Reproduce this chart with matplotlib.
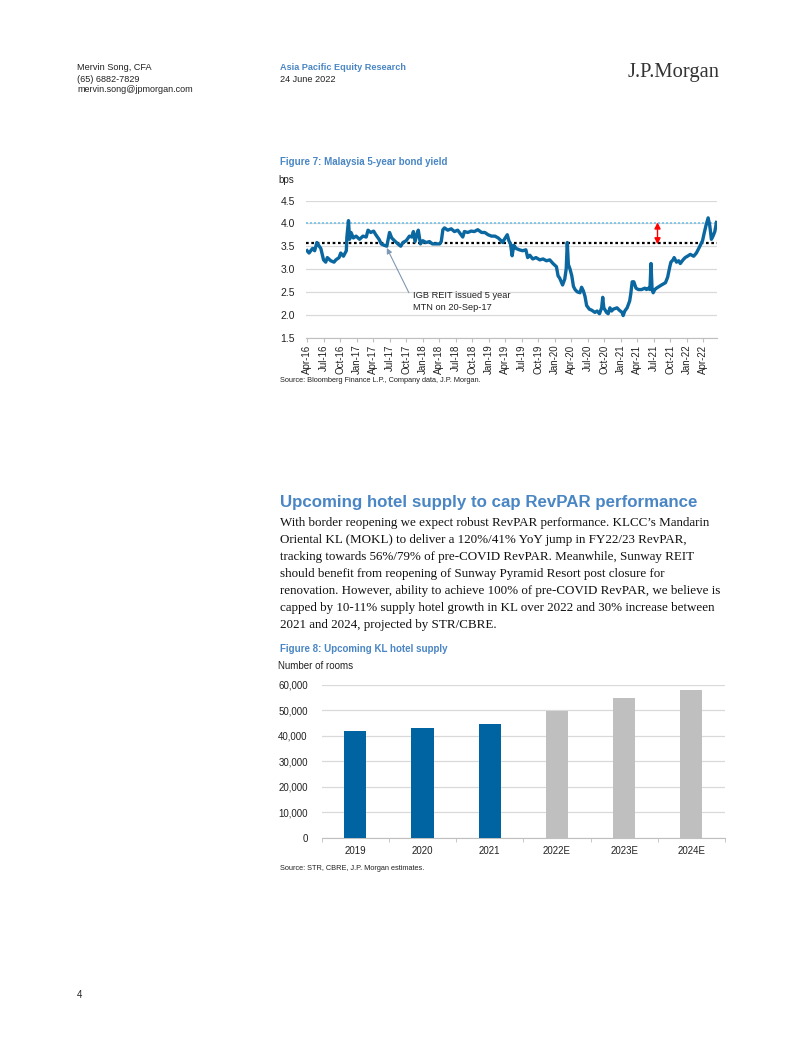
import matplotlib
matplotlib.use("Agg")
import matplotlib.pyplot as plt
import matplotlib.dates as mdates
from matplotlib.ticker import FuncFormatter
import pandas as pd

W, H = 802, 1037

# --- Figure 7: Malaysia 5-year bond yield ---
bond_dates = [
    "2016-04-01", "2016-04-12", "2016-05-01", "2016-05-13", "2016-05-25", "2016-06-07",
    "2016-06-16", "2016-07-01", "2016-07-13", "2016-07-22", "2016-08-10", "2016-08-28",
    "2016-09-07", "2016-09-25", "2016-10-04", "2016-10-19", "2016-11-04", "2016-11-07",
    "2016-11-16", "2016-11-22", "2016-11-30", "2016-12-13", "2016-12-28", "2017-01-16",
    "2017-02-04", "2017-02-22", "2017-03-04", "2017-03-19", "2017-04-04", "2017-04-16",
    "2017-05-04", "2017-05-16", "2017-06-01", "2017-06-16", "2017-07-01", "2017-07-13",
    "2017-07-28", "2017-08-16", "2017-09-01", "2017-09-13", "2017-10-01", "2017-10-19",
    "2017-11-01", "2017-11-10", "2017-11-19", "2017-12-01", "2017-12-07", "2017-12-19",
    "2018-01-01", "2018-01-19", "2018-02-07", "2018-02-23", "2018-03-13", "2018-04-04",
    "2018-04-13", "2018-04-22", "2018-05-01", "2018-05-19", "2018-06-07", "2018-06-25",
    "2018-07-13", "2018-08-01", "2018-08-10", "2018-08-19", "2018-09-07", "2018-09-25",
    "2018-10-13", "2018-11-01", "2018-11-22", "2018-12-10", "2018-12-28", "2019-01-16",
    "2019-02-04", "2019-02-22", "2019-03-10", "2019-03-19", "2019-03-28", "2019-04-13",
    "2019-04-22", "2019-05-01", "2019-05-10", "2019-05-19", "2019-06-01", "2019-06-19",
    "2019-07-07", "2019-07-25", "2019-08-04", "2019-08-16", "2019-09-01", "2019-09-19",
    "2019-10-10", "2019-10-28", "2019-11-16", "2019-12-04", "2019-12-22", "2020-01-10",
    "2020-01-19", "2020-01-28", "2020-02-13", "2020-02-25", "2020-03-04", "2020-03-10",
    "2020-03-16", "2020-03-25", "2020-04-04", "2020-04-13", "2020-04-22", "2020-05-04",
    "2020-05-19", "2020-05-28", "2020-06-07", "2020-06-16", "2020-06-25", "2020-07-10",
    "2020-07-22", "2020-08-10", "2020-08-22", "2020-09-04", "2020-09-16", "2020-09-22",
    "2020-09-28", "2020-10-13", "2020-10-22", "2020-11-01", "2020-11-10", "2020-11-19",
    "2020-12-10", "2020-12-22", "2021-01-07", "2021-01-13", "2021-01-22", "2021-02-04",
    "2021-02-18", "2021-02-24", "2021-03-04", "2021-03-13", "2021-03-25", "2021-04-07",
    "2021-04-25", "2021-05-13", "2021-05-22", "2021-06-01", "2021-06-10", "2021-06-16",
    "2021-06-22", "2021-06-28", "2021-07-07", "2021-07-16", "2021-08-01", "2021-08-13",
    "2021-09-04", "2021-09-16", "2021-09-28", "2021-10-04", "2021-10-16", "2021-10-22",
    "2021-11-04", "2021-11-16", "2021-11-25", "2021-12-10", "2021-12-22", "2022-01-04",
    "2022-01-19", "2022-02-07", "2022-02-22", "2022-03-07", "2022-03-19", "2022-03-28",
    "2022-04-07", "2022-04-16", "2022-04-28", "2022-05-07", "2022-05-16", "2022-05-25",
    "2022-06-04", "2022-06-13",
]
bond_yield = [
    3.40, 3.35, 3.45, 3.40, 3.58, 3.50,
    3.45, 3.20, 3.15, 3.25, 3.18, 3.15,
    3.20, 3.25, 3.35, 3.28, 3.40, 3.70,
    4.06, 3.65, 3.80, 3.68, 3.72, 3.65,
    3.72, 3.70, 3.85, 3.80, 3.83, 3.75,
    3.65, 3.55, 3.52, 3.50, 3.80, 3.68,
    3.62, 3.55, 3.50, 3.58, 3.62, 3.72,
    3.70, 3.82, 3.60, 3.78, 3.85, 3.55,
    3.62, 3.58, 3.60, 3.55, 3.55, 3.55,
    3.60, 3.86, 3.90, 3.85, 3.88, 3.82,
    3.85, 3.75, 3.70, 3.82, 3.80, 3.83,
    3.82, 3.86, 3.80, 3.80, 3.75, 3.72,
    3.72, 3.68, 3.62, 3.58, 3.65, 3.75,
    3.62, 3.55, 3.29, 3.52, 3.45, 3.42,
    3.40, 3.42, 3.25, 3.30, 3.22, 3.25,
    3.20, 3.22, 3.18, 3.20, 3.12, 3.05,
    2.85, 2.80, 2.65, 2.78, 3.00, 3.58,
    3.10, 3.00, 2.85, 2.62, 2.55, 2.50,
    2.48, 2.60, 2.52, 2.40, 2.20, 2.12,
    2.10, 2.05, 2.08, 2.02, 2.15, 2.38,
    2.15, 2.05, 2.02, 2.15, 2.08, 2.12,
    2.15, 2.10, 2.05, 1.98, 2.08, 2.15,
    2.30, 2.45, 2.72, 2.72, 2.58, 2.55,
    2.55, 2.58, 2.55, 2.58, 2.55, 3.12,
    2.55, 2.48, 2.55, 2.58, 2.62, 2.65,
    2.70, 2.82, 3.05, 3.15, 3.20, 3.25,
    3.15, 3.18, 3.12, 3.20, 3.25, 3.28,
    3.32, 3.28, 3.35, 3.45, 3.55, 3.62,
    3.80, 3.95, 4.12, 3.95, 3.65, 3.72,
    3.82, 4.02,
]
issue_level = 3.56
current_level = 4.0
y_ticks = [1.5, 2.0, 2.5, 3.0, 3.5, 4.0, 4.5]

# --- Figure 8: Upcoming KL hotel supply ---
years = ["2019", "2020", "2021", "2022E", "2023E", "2024E"]
rooms = [42000, 43000, 44800, 49700, 54800, 58100]
is_estimate = [False, False, False, True, True, True]

body_lines = [
    "With border reopening we expect robust RevPAR performance. KLCC\u2019s Mandarin",
    "Oriental KL (MOKL) to deliver a 120%/41% YoY jump in FY22/23 RevPAR,",
    "tracking towards 56%/79% of pre-COVID RevPAR. Meanwhile, Sunway REIT",
    "should benefit from reopening of Sunway Pyramid Resort post closure for",
    "renovation. However, ability to achieve 100% of pre-COVID RevPAR, we believe is",
    "capped by 10-11% supply hotel growth in KL over 2022 and 30% increase between",
    "2021 and 2024, projected by STR/CBRE.",
]

SANS = ["Liberation Sans", "DejaVu Sans"]
SERIF = ["Liberation Serif", "DejaVu Serif"]
BLUE_TXT = "#4a86c4"
LINE_BLUE = "#0b67a0"
BAR_BLUE = "#0064a3"
GREY_BAR = "#bfbfbf"
GRID = "#d9d9d9"

plt.rcParams["font.family"] = SANS

fig = plt.figure(figsize=(W / 100, H / 100), dpi=100)


def ax_px(x0, y0, x1, y1):
    return fig.add_axes([x0 / W, 1 - y1 / H, (x1 - x0) / W, (y1 - y0) / H])


def txt(x, y, s, **kw):
    kw.setdefault("va", "center")
    kw.setdefault("ha", "left")
    fig.text(x / W, 1 - y / H, s, **kw)


# --- page header ---
txt(77, 68, "Mervin Song, CFA", fontsize=6.6, color="#222222")
txt(77, 79, "(65) 6882-7829", fontsize=6.6, color="#222222")
txt(77, 90, "mervin.song@jpmorgan.com", fontsize=6.5, color="#222222")
txt(280, 68, "Asia Pacific Equity Research", fontsize=6.6, color=BLUE_TXT, fontweight="bold")
txt(280, 79, "24 June 2022", fontsize=6.6, color="#222222")
txt(720, 72, "J.P.Morgan", fontsize=14.8, family=SERIF, color="#333333", ha="right")

# --- Figure 7 ---
txt(280, 162, "Figure 7: Malaysia 5-year bond yield", fontsize=7.0, color=BLUE_TXT, fontweight="bold")
txt(278, 180, "bps", fontsize=7, color="#222222")

ax1 = ax_px(306, 200.5, 717, 337.5)
dates = pd.to_datetime(bond_dates)
ax1.plot(dates, bond_yield, color=LINE_BLUE, lw=2.4, solid_joinstyle="round", zorder=4)
ax1.axhline(current_level, color="#74c2e8", ls=(0, (1.2, 1.2)), lw=1.2, zorder=3)
ax1.axhline(issue_level, color="black", ls=(0, (1.2, 1.2)), lw=1.6, zorder=3)
ax1.set_ylim(1.5, 4.5)
ax1.set_yticks(y_ticks)
ax1.yaxis.set_major_formatter(FuncFormatter(lambda v, p: f"{v:.1f}"))
ax1.set_xlim(pd.Timestamp("2016-03-26"), pd.Timestamp("2022-06-16"))
ax1.xaxis.set_major_locator(mdates.MonthLocator(bymonth=[1, 4, 7, 10]))
ax1.xaxis.set_major_formatter(mdates.DateFormatter("%b-%y"))
ax1.grid(axis="y", color=GRID, lw=0.9, zorder=0)
for s in ["top", "right", "left"]:
    ax1.spines[s].set_visible(False)
ax1.spines["bottom"].set_color("#bfbfbf")
ax1.tick_params(axis="y", length=0, pad=8, labelsize=7.5, labelcolor="#222222")
ax1.tick_params(axis="x", length=3, color="#bfbfbf", pad=2, labelsize=7,
                labelcolor="#222222", labelrotation=90)

# red double-headed gap arrow
ax1.annotate("", xy=(pd.Timestamp("2021-07-22"), current_level + 0.02),
             xytext=(pd.Timestamp("2021-07-22"), issue_level - 0.02),
             arrowprops=dict(arrowstyle="<|-|>", color="#ff0000", lw=1.0,
                             mutation_scale=9, shrinkA=0, shrinkB=0), zorder=5)

# IGB REIT annotation
ax1.annotate("", xy=(pd.Timestamp("2017-06-16"), 3.46),
             xytext=(pd.Timestamp("2017-10-16"), 2.48),
             arrowprops=dict(arrowstyle="-|>", color="#7f98b3", lw=0.8,
                             mutation_scale=8, shrinkA=0, shrinkB=0), zorder=5)
ax1.text(pd.Timestamp("2017-11-08"), 2.42, "IGB REIT issued 5 year", fontsize=6.7,
         color="#222222", va="center")
ax1.text(pd.Timestamp("2017-11-08"), 2.15, "MTN on 20-Sep-17", fontsize=6.7,
         color="#222222", va="center")

txt(280, 381, "Source: Bloomberg Finance L.P., Company data, J.P. Morgan.", fontsize=5.3,
    color="#222222")

# --- section text ---
txt(280, 502, "Upcoming hotel supply to cap RevPAR performance", fontsize=12.2,
    color=BLUE_TXT, fontweight="bold")
for i, line in enumerate(body_lines):
    txt(280, 523 + i * 17.0, line, fontsize=9.4, family=SERIF, color="#111111")

# --- Figure 8 ---
txt(280, 649, "Figure 8: Upcoming KL hotel supply", fontsize=7.0, color=BLUE_TXT, fontweight="bold")
txt(278, 666, "Number of rooms", fontsize=7, color="#222222")

ax2 = ax_px(321.7, 685, 725, 837.7)
bar_colors = [GREY_BAR if e else BAR_BLUE for e in is_estimate]
ax2.bar(range(len(years)), rooms, width=0.33, color=bar_colors, zorder=3)
ax2.set_xlim(-0.5, len(years) - 0.5)
ax2.set_ylim(0, 60000)
ax2.set_yticks(range(0, 60001, 10000))
ax2.yaxis.set_major_formatter(FuncFormatter(lambda v, p: f"{v:,.0f}"))
ax2.set_xticks(range(len(years)))
ax2.set_xticklabels(years)
ax2.set_xticks([i - 0.5 for i in range(len(years) + 1)], minor=True)
ax2.grid(axis="y", color=GRID, lw=0.9, zorder=0)
for s in ["top", "right", "left"]:
    ax2.spines[s].set_visible(False)
ax2.spines["bottom"].set_color("#bfbfbf")
ax2.tick_params(axis="y", length=0, pad=10, labelsize=7, labelcolor="#222222")
ax2.tick_params(axis="x", which="major", length=0, pad=6, labelsize=7, labelcolor="#222222")
ax2.tick_params(axis="x", which="minor", length=3, color="#bfbfbf")

txt(280, 868, "Source: STR, CBRE, J.P. Morgan estimates.", fontsize=5.3, color="#222222")

# page number
txt(77, 995, "4", fontsize=7, color="#222222")

fig.savefig("out.png", dpi=100)
